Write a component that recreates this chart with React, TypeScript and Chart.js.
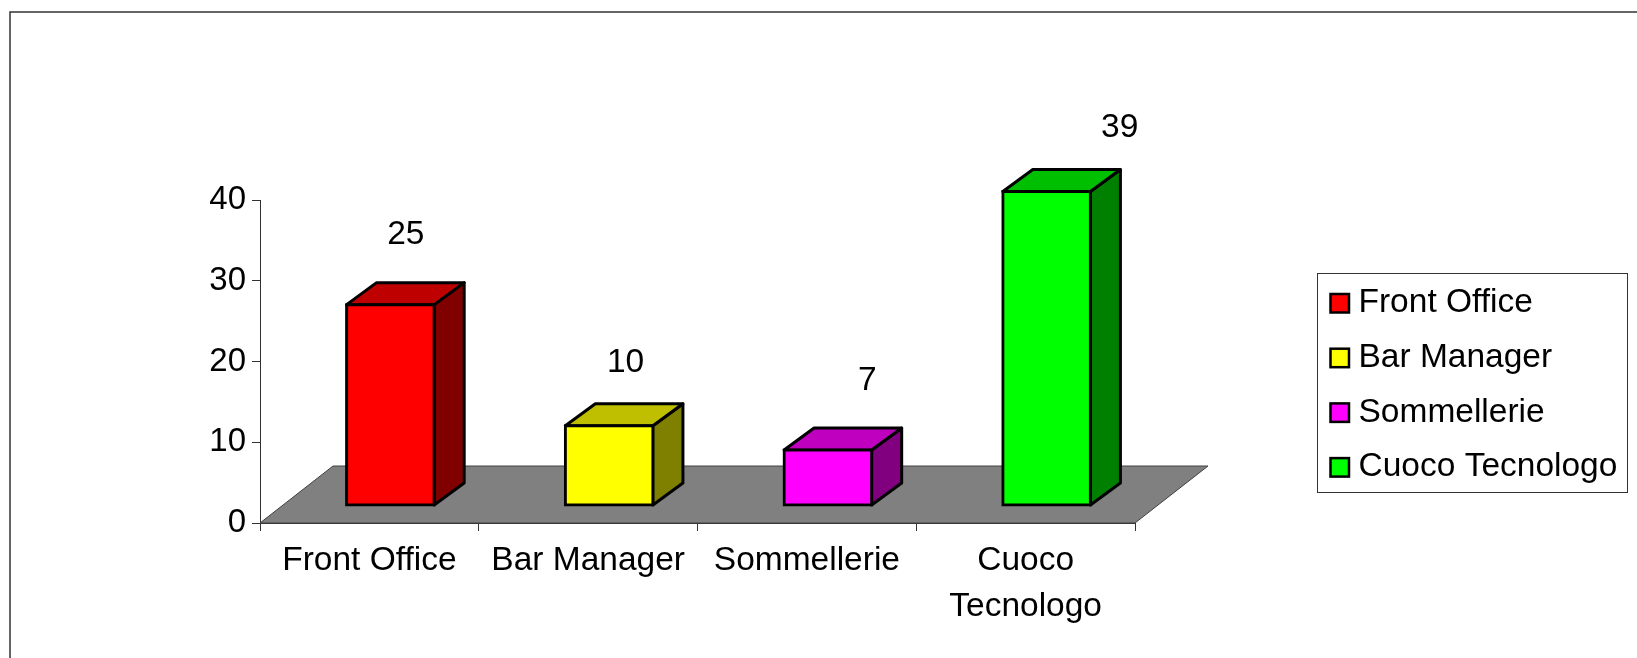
import React, { useEffect, useRef } from "react";
import { Chart, registerables } from "chart.js";

Chart.register(...registerables);

const categories: (string | string[])[] = ["Front Office", "Bar Manager", "Sommellerie", ["Cuoco", "Tecnologo"]];
const legendLabels = ["Front Office", "Bar Manager", "Sommellerie", "Cuoco Tecnologo"];
const values = [25, 10, 7, 39];
const frontColors = ["#FF0000", "#FFFF00", "#FF00FF", "#00FF00"];
const sideColors = ["#800000", "#808000", "#800080", "#008000"];
const topColors = ["#BF0000", "#BFBF00", "#BF00BF", "#00BF00"];
const labelShiftX = [36.4, 37.4, 60.5, 94];
const labelShiftY = [-77, -70.6, -76.5, -71];

const FAMILY = "'Liberation Sans', Arial, sans-serif";
const FONT = "33.5px " + FAMILY;
const SHIFT_X = 21;
const SHIFT_Y = -17;
const DEPTH_X = 30;
const DEPTH_Y = 22;
const FLOOR_X = 73;
const FLOOR_Y = 57;
const BAR_BORDER = 3;

const scene3d = {
  id: "scene3d",
  beforeDatasetsDraw(chart: any) {
    const { ctx, chartArea: a } = chart;
    ctx.save();
    ctx.beginPath();
    ctx.moveTo(a.left, a.bottom);
    ctx.lineTo(a.left + FLOOR_X, a.bottom - FLOOR_Y);
    ctx.lineTo(a.right + FLOOR_X, a.bottom - FLOOR_Y);
    ctx.lineTo(a.right, a.bottom);
    ctx.closePath();
    ctx.fillStyle = "#808080";
    ctx.fill();
    ctx.lineWidth = 1;
    ctx.strokeStyle = "#404040";
    ctx.stroke();
    ctx.restore();
  },
  beforeDatasetDraw(chart: any, args: any) {
    const { ctx } = chart;
    ctx.save();
    ctx.lineWidth = BAR_BORDER;
    ctx.strokeStyle = "#000";
    ctx.lineJoin = "round";
    args.meta.data.forEach((bar: any, i: number) => {
      const l = bar.x - bar.width / 2 + SHIFT_X + 0.5;
      const r = bar.x + bar.width / 2 + SHIFT_X - 0.5;
      const t = bar.y + SHIFT_Y + 0.5;
      const b = bar.base + SHIFT_Y - 0.5;
      ctx.beginPath();
      ctx.moveTo(r, t);
      ctx.lineTo(r + DEPTH_X, t - DEPTH_Y);
      ctx.lineTo(r + DEPTH_X, b - DEPTH_Y);
      ctx.lineTo(r, b);
      ctx.closePath();
      ctx.fillStyle = sideColors[i];
      ctx.fill();
      ctx.stroke();
      ctx.beginPath();
      ctx.moveTo(l, t);
      ctx.lineTo(l + DEPTH_X, t - DEPTH_Y);
      ctx.lineTo(r + DEPTH_X, t - DEPTH_Y);
      ctx.lineTo(r, t);
      ctx.closePath();
      ctx.fillStyle = topColors[i];
      ctx.fill();
      ctx.stroke();
    });
    ctx.restore();
    ctx.save();
    ctx.translate(SHIFT_X, SHIFT_Y);
  },
  afterDatasetDraw(chart: any) {
    chart.ctx.restore();
  },
  afterDatasetsDraw(chart: any) {
    const { ctx } = chart;
    const meta = chart.getDatasetMeta(0);
    ctx.save();
    ctx.font = FONT;
    ctx.fillStyle = "#000";
    ctx.textAlign = "center";
    ctx.textBaseline = "alphabetic";
    meta.data.forEach((bar: any, i: number) => {
      ctx.fillText(String(values[i]), bar.x + labelShiftX[i], bar.y + labelShiftY[i]);
    });
    ctx.restore();
  },
  afterDraw(chart: any) {
    const { ctx } = chart;
    ctx.save();
    // outer frame: top and left edges only
    ctx.strokeStyle = "#333";
    ctx.lineWidth = 1.5;
    ctx.beginPath();
    ctx.moveTo(10, chart.height);
    ctx.lineTo(10, 12);
    ctx.lineTo(chart.width, 12);
    ctx.stroke();
    // legend
    ctx.fillStyle = "#fff";
    ctx.strokeStyle = "#333";
    ctx.lineWidth = 1;
    ctx.fillRect(1317.5, 273.5, 310, 219);
    ctx.strokeRect(1317.5, 273.5, 310, 219);
    ctx.font = FONT;
    ctx.textAlign = "left";
    ctx.textBaseline = "alphabetic";
    legendLabels.forEach((label, i) => {
      const y = 293 + i * 54.7;
      ctx.fillStyle = frontColors[i];
      ctx.strokeStyle = "#000";
      ctx.lineWidth = 2.5;
      ctx.fillRect(1330.5, y + 1, 18.5, 18.5);
      ctx.strokeRect(1330.5, y + 1, 18.5, 18.5);
      ctx.fillStyle = "#000";
      ctx.fillText(label, 1358.5, y + 19.2);
    });
    ctx.restore();
  },
};

export default function App() {
  const ref = useRef<HTMLCanvasElement>(null);
  useEffect(() => {
    const chart = new Chart(ref.current!, {
      type: "bar",
      data: {
        labels: categories as any,
        datasets: [
          {
            data: values,
            backgroundColor: frontColors,
            borderColor: "#000",
            borderWidth: BAR_BORDER,
            borderSkipped: false,
            inflateAmount: 1,
            categoryPercentage: 1,
            barPercentage: 0.405,
            clip: false as any,
          },
        ],
      },
      options: {
        responsive: false,
        animation: false,
        devicePixelRatio: 1,
        layout: { padding: { left: 0, top: 200, right: 502, bottom: 0 } },
        plugins: { legend: { display: false }, tooltip: { enabled: false }, title: { display: false } },
        scales: {
          x: {
            offset: true,
            afterFit(s: any) {
              s.height = 135;
            },
            border: { color: "#333", width: 1 },
            grid: { offset: true, drawOnChartArea: false, drawTicks: true, tickLength: 8, tickColor: "#333" },
            ticks: {
              maxRotation: 0,
              minRotation: 0,
              autoSkip: false,
              padding: 7,
              color: "#000",
              font: { family: FAMILY, size: 33.5, lineHeight: 1.37 },
            },
          },
          y: {
            min: 0,
            max: 40,
            afterFit(s: any) {
              s.width = 260;
            },
            border: { color: "#333", width: 1 },
            grid: { drawOnChartArea: false, drawTicks: true, tickLength: 8, tickColor: "#333" },
            ticks: {
              stepSize: 10,
              padding: 6,
              color: "#000",
              font: { family: FAMILY, size: 33 },
            },
          },
        },
      },
      plugins: [scene3d],
    });
    return () => chart.destroy();
  }, []);
  return (
    <div style={{ position: "absolute", left: 0, top: 0, width: 1637, height: 658, background: "#fff" }}>
      <canvas ref={ref} width={1637} height={658} style={{ display: "block" }} />
    </div>
  );
}
